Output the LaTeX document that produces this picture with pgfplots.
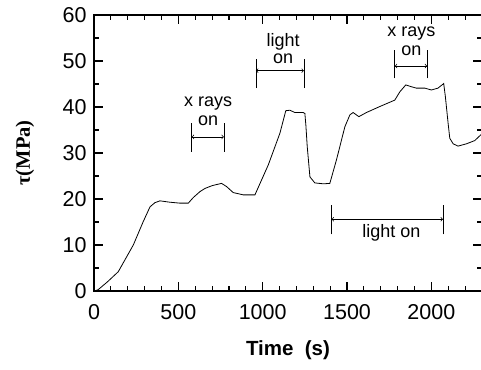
\documentclass[border=0pt]{standalone}
\usepackage{fontspec}
\setmainfont{Liberation Sans}
\newfontfamily\serifbold{Liberation Serif}
\usepackage{pgfplots}
\pgfplotsset{compat=1.18}
\begin{document}
\begin{tikzpicture}
\begin{axis}[
  at={(0,0)}, anchor=south west,
  scale only axis,
  width=388pt, height=276pt,
  xmin=0, xmax=2300, ymin=0, ymax=60,
  xtick distance=500, minor x tick num=4,
  ytick distance=10, minor y tick num=1,
  tick align=inside,
  major tick length=9pt, minor tick length=5pt,
  every tick/.style={line width=1.1pt, black},
  axis line style={line width=1.5pt},
  /pgf/number format/1000 sep={},
  /pgf/number format/assume math mode=true,
  tick label style={font=\fontsize{21.5}{24}\selectfont},
  xticklabel style={yshift=-10pt},
  yticklabel style={xshift=-4pt},
  xlabel={\textbf{Time\ \ (s)}},
  ylabel={\serifbold\bfseries τ(MPa)},
  label style={font=\fontsize{20.5}{24}\selectfont},
  xlabel style={at={(axis description cs:0.5,0)}, anchor=center, yshift=-59pt},
  ylabel style={at={(axis description cs:-0.178,0.5)}, anchor=center},
  clip=false,
]
\addplot[black, line width=0.8pt] coordinates {
(5,0) (25,0.3) (80,2) (144,4.2) (190,7.2) (233,10) (292,15.1) (332,18.3) (361,19.2) (391,19.6)
(450,19.3) (509,19.1) (559,19.1) (588,20.3) (628,21.6) (658,22.3) (700,22.9) (756,23.4)
(786,22.7) (825,21.4) (885,20.9) (954,20.9) (1033,27.4) (1102,34.3) (1137,39.2) (1161,39.3)
(1191,38.8) (1240,38.8) (1250,38.6) (1256,36) (1264,31.4) (1280,24.8) (1309,23.5) (1360,23.3) (1398,23.4)
(1438,28.6) (1487,35.7) (1517,38.3) (1536,38.8) (1570,37.9) (1615,38.8) (1694,40.1)
(1783,41.5) (1813,43.3) (1848,44.8) (1882,44.4) (1911,44.1) (1961,44.1) (2000,43.7)
(2039,44.1) (2073,45.1) (2083,42.2) (2099,36.5) (2109,33.2) (2129,32) (2158,31.5)
(2208,32) (2257,32.7) (2300,34.2)
};
% annotations
\begin{scope}[line width=0.7pt]
\draw (axis cs:579,30.3) -- (axis cs:579,36.5);
\draw (axis cs:770,30.3) -- (axis cs:770,36.5);
\draw[<->] (axis cs:579,33.5) -- (axis cs:770,33.5);
\draw (axis cs:960,44.1) -- (axis cs:960,50.4);
\draw (axis cs:1244,44.1) -- (axis cs:1244,50.4);
\draw[<->] (axis cs:960,47.9) -- (axis cs:1244,47.9);
\draw (axis cs:1783,46.2) -- (axis cs:1783,52.5);
\draw (axis cs:1975,46.2) -- (axis cs:1975,52.5);
\draw[<->] (axis cs:1783,48.9) -- (axis cs:1975,48.9);
\draw (axis cs:1408,12.3) -- (axis cs:1408,18.7);
\draw (axis cs:2069,12.3) -- (axis cs:2069,18.7);
\draw[<->] (axis cs:1408,15.6) -- (axis cs:2069,15.6);
\end{scope}
\begin{scope}[font=\fontsize{18}{20}\selectfont]
\node at (axis cs:677,40.8) {x rays};
\node at (axis cs:677,37.1) {on};
\node at (axis cs:1121,54.2) {light};
\node at (axis cs:1121,50.4) {on};
\node at (axis cs:1882,56) {x rays};
\node at (axis cs:1882,52.2) {on};
\node at (axis cs:1763,12.7) {light on};
\end{scope}
\end{axis}
\pgfresetboundingbox
\useasboundingbox (-94pt,-78pt) rectangle (387pt,291pt);
\end{tikzpicture}
\end{document}
